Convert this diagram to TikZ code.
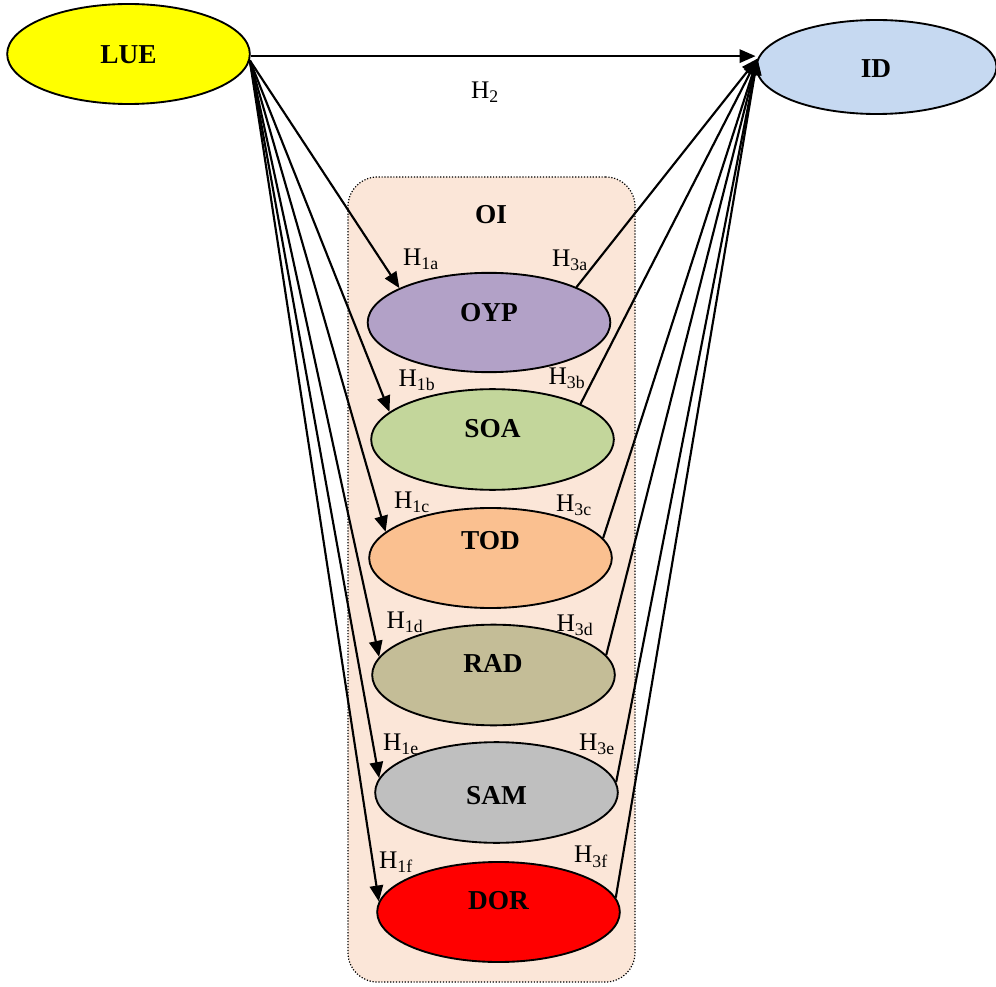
\documentclass[tikz,border=0pt]{standalone}
\usepackage{fontspec}
\setmainfont{Liberation Serif}
\usetikzlibrary{shapes.geometric,arrows.meta}

\definecolor{lueyellow}{HTML}{FFFF00}
\definecolor{idblue}{HTML}{C6D9F1}
\definecolor{oipeach}{HTML}{FBE6D8}
\definecolor{oypviolet}{HTML}{B2A1C7}
\definecolor{soagreen}{HTML}{C3D69B}
\definecolor{todorange}{HTML}{FAC090}
\definecolor{radolive}{HTML}{C4BD97}
\definecolor{samgrey}{HTML}{BFBFBF}
\definecolor{dorred}{HTML}{FF0000}

\begin{document}
\begin{tikzpicture}[x=0.75pt,y=-0.75pt,
  oval/.style={ellipse, draw, line width=1.4pt, inner sep=0pt,
               minimum width=182pt, minimum height=75pt},
  ctext/.style={font=\fontsize{20.5}{22}\selectfont\bfseries, inner sep=0pt},
  hlab/.style={font=\fontsize{19}{21}\selectfont, inner sep=0pt},
  link/.style={line width=1.6pt, -{Triangle[length=12pt,width=10pt]}},
  oigroup/.style={draw, line width=0.9pt, dash pattern=on 0.9pt off 1.3pt,
                fill=oipeach, rounded corners=22pt, inner sep=0pt,
                minimum width=215.25pt, minimum height=603.75pt}]
\useasboundingbox (0,0) rectangle (996,987);

% grouping box for the OI dimensions
\node[oigroup] (oi) at (491.5,579.5) {};
\node[ctext] (oititle) at (491,215) {OI};

% main constructs
\node[oval, fill=lueyellow, minimum height=75pt] (lue) at (128.5,54) {};
\node[ctext] at (128.5,55) {LUE};
\node[oval, fill=idblue, minimum width=180pt, minimum height=70.5pt] (id) at (876.5,67) {};
\node[ctext] at (876,69) {ID};

% OI dimensions
\node[oval, fill=oypviolet, minimum height=74.5pt] (oyp) at (489,322.5) {};
\node[ctext] at (489,313) {OYP};
\node[oval, fill=soagreen, minimum height=75.5pt] (soa) at (492.5,439.5) {};
\node[ctext] at (492.5,429) {SOA};
\node[oval, fill=todorange, minimum height=75pt] (tod) at (490.5,558) {};
\node[ctext] at (490.5,541) {TOD};
\node[oval, fill=radolive, minimum height=75.5pt] (rad) at (493.5,675) {};
\node[ctext] at (493,664) {RAD};
\node[oval, fill=samgrey, minimum height=75.5pt] (sam) at (496.5,792.5) {};
\node[ctext] at (496.5,796) {SAM};
\node[oval, fill=dorred, minimum height=75pt] (dor) at (498.5,912) {};
\node[ctext] at (498.5,901) {DOR};

% direct effect H2
\draw[link] (lue.-1) -- (lue.-1 -| id.west);
\node[hlab] at (485,92) {H\textsubscript{2}};

% H1 paths: LUE to each dimension
\draw[link] (lue.-3) -- (oyp.159);
\draw[link] (lue.-3) -- (soa.165);
\draw[link] (lue.-3) -- (tod.166);
\draw[link] (lue.-3) -- (rad.171);
\draw[link] (lue.-3) -- (sam.173.5);
\draw[link] (lue.-3) -- (dor.175.5);

% H3 paths: each dimension to ID
\draw[link] (oyp.22)  -- (id.176);
\draw[link] (soa.22)  -- (id.176);
\draw[link] (tod.10.5) -- (id.176);
\draw[link] (rad.10)  -- (id.176);
\draw[link] (sam.5)   -- (id.176);
\draw[link] (dor.7.5) -- (id.176);

% hypothesis labels
\node[hlab] at (421,259) {H\textsubscript{1a}};
\node[hlab] at (570,260) {H\textsubscript{3a}};
\node[hlab] at (417,380) {H\textsubscript{1b}};
\node[hlab] at (567,378) {H\textsubscript{3b}};
\node[hlab] at (412,502) {H\textsubscript{1c}};
\node[hlab] at (574,505) {H\textsubscript{3c}};
\node[hlab] at (405,622) {H\textsubscript{1d}};
\node[hlab] at (575,625) {H\textsubscript{3d}};
\node[hlab] at (401,744) {H\textsubscript{1e}};
\node[hlab] at (597,744) {H\textsubscript{3e}};
\node[hlab] at (396,862) {H\textsubscript{1f}};
\node[hlab] at (591,857) {H\textsubscript{3f}};
\end{tikzpicture}
\end{document}
